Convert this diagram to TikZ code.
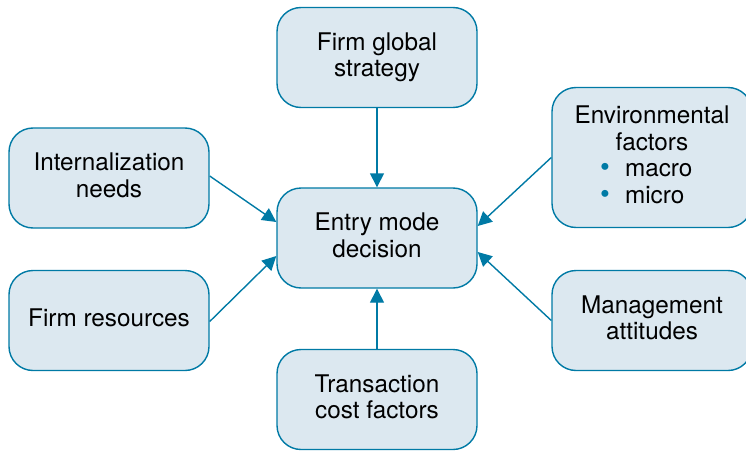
\documentclass[tikz,border=0pt]{standalone}
\usepackage{fontspec}
\setmainfont{TeX Gyre Heros}
\usetikzlibrary{arrows.meta}
\definecolor{edgeblue}{RGB}{0,122,165}
\definecolor{boxfill}{RGB}{220,232,240}
\newcommand{\bltitem}[1]{\makebox[104pt][l]{\makebox[25pt][l]{\textcolor{edgeblue}{\scalebox{1.15}{\textbullet}}}#1}}
\tikzset{
  factor/.style={draw=edgeblue, fill=boxfill, line width=1.4pt, rounded corners=24pt,
    minimum width=200pt, minimum height=100pt, align=center, inner sep=0pt,
    text depth=6pt, font=\fontsize{24.3}{26.6}\selectfont},
  link/.style={draw=edgeblue, line width=1.4pt, -{Triangle[length=14pt,width=14pt]}}
}
\begin{document}
\begin{tikzpicture}[x=1pt,y=-1pt]
\useasboundingbox (0,0) rectangle (746,452);
\node[factor] (top) at (377,57.5) {Firm global\\strategy};
\node[factor] (mid) at (377,238) {Entry mode\\decision};
\node[factor] (bot) at (377,399.5) {Transaction\\cost factors};
\node[factor] (int) at (109,178) {Internalization\\needs};
\node[factor] (res) at (109,320.5) {Firm resources};
\node[factor, minimum height=140pt] (env) at (652,157.5) {Environmental\\factors\\
  \bltitem{macro}\\\bltitem{micro}};
\node[factor] (man) at (652,320.5) {Management\\attitudes};
\draw[link] (top.south) -- (mid.north);
\draw[link] (bot.north) -- (mid.south);
\draw[link] ([yshift=2pt]int.east) -- ([yshift=16pt]mid.west);
\draw[link] ([yshift=-1pt]res.east) -- ([yshift=-18pt]mid.west);
\draw[link] (env.west) -- ([yshift=12pt]mid.east);
\draw[link] (man.west) -- ([yshift=-14pt]mid.east);
\end{tikzpicture}
\end{document}
